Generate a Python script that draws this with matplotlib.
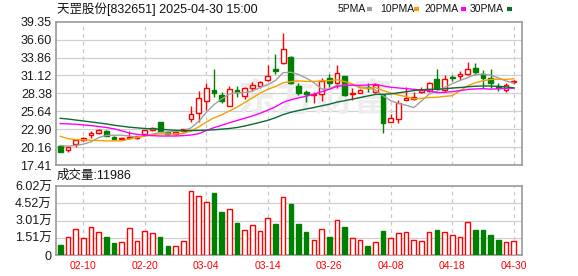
import numpy as np
import pandas as pd
import matplotlib
matplotlib.use('Agg')
import matplotlib.pyplot as plt
from matplotlib.lines import Line2D

plt.rcParams['font.family'] = ['Liberation Sans', 'Noto Sans CJK SC']

# daily candles, 2025-02-05 .. 2025-04-30
opens = [20.32, 19.71, 20.58, 21.19, 21.96, 22.36, 22.66, 21.74, 21.35, 21.50,
         21.50, 22.10, 22.72, 23.99, 22.40, 22.10, 22.55, 24.45, 25.33, 27.21,
         28.90, 28.08, 26.45, 28.85, 27.98, 29.25, 29.51, 30.38, 32.11, 32.98,
         34.00, 29.51, 28.63, 28.20, 28.28, 30.68, 29.92, 31.04, 28.28, 28.49,
         29.40, 28.63, 28.13, 24.04, 24.40, 27.36, 27.47, 28.55, 28.80, 30.55,
         28.90, 30.85, 31.10, 31.30, 32.30, 31.30, 30.78, 29.44, 28.90, 30.05]
highs = [20.35, 20.25, 21.44, 21.70, 22.62, 22.88, 22.70, 21.80, 21.70, 22.62,
         21.85, 22.80, 23.27, 24.00, 22.50, 22.55, 22.95, 26.45, 28.74, 30.01,
         32.11, 28.63, 29.51, 29.51, 29.40, 30.07, 30.27, 32.77, 34.36, 37.67,
         34.10, 29.90, 28.90, 28.63, 30.70, 31.34, 32.72, 31.10, 29.16, 29.00,
         29.90, 30.01, 28.20, 25.22, 27.36, 29.40, 28.63, 29.40, 30.17, 32.11,
         31.19, 31.15, 31.85, 33.20, 32.98, 32.00, 32.11, 29.92, 29.92, 30.50]
lows = [19.42, 19.35, 20.21, 21.10, 21.50, 22.11, 21.85, 21.30, 21.20, 21.35,
        21.45, 22.05, 22.62, 22.50, 22.05, 22.00, 22.45, 24.04, 24.04, 25.90,
        27.78, 26.86, 26.40, 27.78, 27.47, 28.74, 29.16, 30.27, 31.30, 32.90,
        29.77, 28.20, 27.10, 26.86, 27.20, 29.40, 29.16, 28.00, 27.36, 28.40,
        28.63, 28.39, 22.26, 23.95, 23.89, 27.30, 27.40, 28.39, 28.63, 28.90,
        28.63, 30.20, 30.43, 31.20, 31.19, 29.20, 29.16, 28.74, 28.54, 29.85]
closes = [19.45, 20.21, 21.19, 21.59, 22.31, 22.72, 21.90, 21.35, 21.59, 21.65,
          21.80, 22.72, 23.03, 22.66, 22.20, 22.45, 22.88, 25.17, 27.62, 29.16,
          28.39, 27.26, 29.00, 28.59, 29.16, 29.66, 30.07, 31.04, 31.80, 35.13,
          30.01, 28.39, 28.28, 28.30, 30.27, 29.92, 31.45, 28.13, 28.49, 28.90,
          29.20, 29.66, 23.80, 24.65, 26.95, 27.72, 27.87, 28.85, 29.92, 29.20,
          30.55, 30.75, 31.30, 32.10, 31.70, 30.78, 29.92, 29.25, 29.66, 30.20]

# volume in 万
volumes = [0.87, 1.54, 2.24, 1.46, 2.42, 1.98, 1.57, 1.05, 1.13, 2.33,
           1.19, 2.07, 1.89, 1.57, 0.79, 0.76, 1.19, 5.56, 5.15, 4.60,
           5.41, 3.75, 3.99, 2.79, 2.15, 2.59, 2.07, 3.20, 2.70, 5.03,
           4.45, 2.70, 2.01, 1.28, 2.24, 1.57, 3.03, 2.44, 1.46, 1.28,
           0.79, 1.11, 2.09, 1.46, 1.92, 1.98, 1.28, 1.19, 1.98, 2.18,
           1.98, 1.72, 1.54, 2.85, 2.18, 2.18, 1.75, 1.28, 1.11, 1.1986]
vol_up = [0, 1, 1, 1, 1, 1, 0, 0, 1, 1, 1, 1, 1, 0, 0, 1, 1, 1, 1, 1,
          0, 0, 1, 0, 1, 1, 1, 1, 0, 1, 0, 0, 0, 1, 1, 0, 1, 0, 1, 1,
          0, 1, 0, 1, 1, 1, 1, 1, 1, 0, 1, 1, 1, 1, 0, 0, 0, 0, 1, 1]

# moving average values before enough bars exist
ma5_head = [20.40, 20.30, 20.40, 20.60]
ma10_head = [21.80, 21.45, 21.30, 21.25, 21.20, 21.15, 21.10, 21.10, 21.10]
ma20_head = [23.75, 23.70, 23.65, 23.55, 23.45, 23.30, 23.15, 22.95, 22.65, 22.30,
             22.10, 21.95, 21.90, 21.85, 21.85, 21.85, 21.90, 22.00, 22.20]
ma30_head = [24.56, 24.45, 24.30, 24.15, 24.00, 23.85, 23.70, 23.50, 23.35, 23.20,
             23.10, 23.00, 22.95, 22.90, 22.80, 22.72, 22.68, 22.68, 22.70, 22.75,
             22.80, 22.90, 23.00, 23.15, 23.38, 23.65, 23.95, 24.25, 24.65]

date_labels = ['02-10', '02-20', '03-04', '03-14', '03-26', '04-08', '04-18', '04-30']
date_pos = [3, 11, 19, 27, 35, 43, 51, 59]

price_ticks = [17.41, 20.16, 22.90, 25.64, 28.38, 31.12, 33.86, 36.60, 39.35]
vol_ticks = [0, 1.51, 3.01, 4.52, 6.02]
vol_labels = ['0', '1.51万', '3.01万', '4.52万', '6.02万']

RED = '#ff0000'
GREEN = '#008000'
ma_colors = {5: '#a0a0a0', 10: '#f5a000', 20: '#ff00ff', 30: '#0b6b32'}

o = np.array(opens); h = np.array(highs); l = np.array(lows); c = np.array(closes)
x = np.arange(len(c))
up = c >= o

s = pd.Series(c)
mas = {}
for n, head in [(5, ma5_head), (10, ma10_head), (20, ma20_head), (30, ma30_head)]:
    m = s.rolling(n).mean().to_numpy()
    m[:n - 1] = head
    mas[n] = m

fig = plt.figure(figsize=(5.78, 2.76), dpi=100)
ax1 = fig.add_axes([56 / 578, 1 - 165 / 276, 466 / 578, 143.3 / 276])
ax2 = fig.add_axes([56 / 578, 1 - 255 / 276, 466 / 578, 69 / 276])
xlim = (-0.55, 60.08)

for ax in (ax1, ax2):
    ax.set_xlim(*xlim)
    for sp in ax.spines.values():
        sp.set_color('#999999')
        sp.set_linewidth(1.2)
    ax.tick_params(length=0, colors='#1a1a1a', labelsize=9, pad=3)
    for p in date_pos:
        ax.axvline(p, color='#c8c8c8', lw=0.9, ls=(0, (3, 3)), zorder=0)

# price panel
ax1.set_ylim(price_ticks[0], price_ticks[-1])
ax1.set_yticks(price_ticks)
ax1.set_yticklabels(['%.2f' % v for v in price_ticks])
ax1.set_xticks([])
for v in price_ticks[1:-1]:
    ax1.axhline(v, color='#d0d0d0', lw=0.9, zorder=0)

ax1.text(33.2, 27.4, '东方财富', fontsize=28, color='#ededed', ha='center', va='center',
         family=['Noto Sans CJK SC'], fontweight='bold', zorder=0.5)

cols = np.where(up, RED, GREEN)
ax1.vlines(x, l, h, colors=cols, lw=1, zorder=2)
body = np.maximum(np.abs(c - o), 0.07)
ax1.bar(x, body, bottom=np.minimum(o, c), width=0.62,
        color=np.where(up, 'white', GREEN), edgecolor=cols, lw=1, zorder=3)

for n in (5, 10, 20, 30):
    ax1.plot(x, mas[n], color=ma_colors[n], lw=1, zorder=4)

# volume panel
vcols = [RED if u else GREEN for u in vol_up]
ax2.set_ylim(0, 6.02)
ax2.set_yticks(vol_ticks)
ax2.set_yticklabels(vol_labels)
for v in vol_ticks[1:-1]:
    ax2.axhline(v, color='#d0d0d0', lw=0.9, zorder=0)
ax2.bar(x, volumes, width=0.6, color=['white' if u else GREEN for u in vol_up],
        edgecolor=vcols, lw=1, zorder=3)
ax2.set_xticks(date_pos)
ax2.set_xticklabels(date_labels, color=RED, fontsize=7.5)
ax2.tick_params(axis='x', pad=4)

# header texts
fig.text(57 / 578, 1 - 9 / 276, '天罡股份[832651] 2025-04-30 15:00', fontsize=9,
         va='center', ha='left', color='#111111')
fig.text(57 / 578, 1 - 176 / 276, '成交量:11986', fontsize=9,
         va='center', ha='left', color='#111111')

legend = [('5PMA', 338, 367, 5), ('10PMA', 380, 414, 10),
          ('20PMA', 424, 461, 20), ('30PMA', 470, 507, 30)]
for name, tx, sx, n in legend:
    fig.text(tx / 578, 1 - 9 / 276, name, fontsize=7.5, va='center', ha='left', color='#111111')
    fig.add_artist(Line2D([sx / 578, (sx + 5) / 578], [1 - 9 / 276, 1 - 9 / 276],
                          color=ma_colors[n], lw=3, solid_capstyle='butt'))

fig.savefig('out.png', dpi=100)
